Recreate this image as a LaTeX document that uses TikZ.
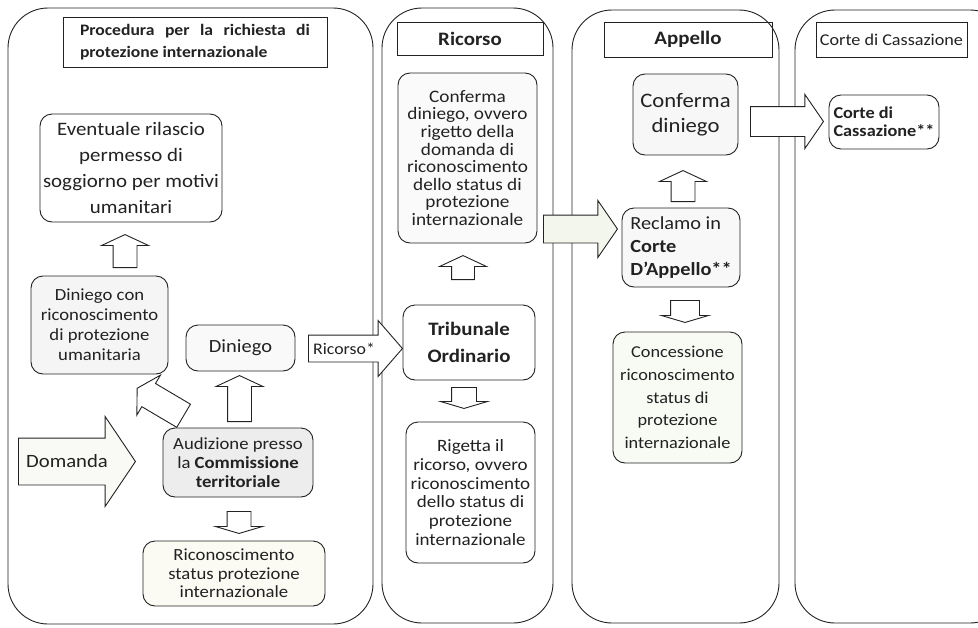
\documentclass[tikz,border=0pt]{standalone}
\usepackage{fontspec}
\setmainfont{Carlito}[FakeStretch=1.1]
\usetikzlibrary{shapes.arrows}
\definecolor{ink}{HTML}{222222}
\definecolor{greyfill}{HTML}{EDEDED}
\definecolor{softfill}{HTML}{F5F5F5}
\definecolor{creamfill}{HTML}{FBFBF3}
\definecolor{greenfill}{HTML}{F3F6EC}
\newcommand{\tightlines}{\lineskiplimit=-6pt\relax}

\begin{document}
\begin{tikzpicture}[
        x=1pt, y=-1pt,
        lane/.style={draw=ink, line width=0.9pt, rounded corners=40pt, inner sep=0pt},
        headbox/.style={draw=ink, line width=0.9pt, inner sep=0pt, text=ink},
        box/.style={draw=ink, line width=0.9pt, rounded corners=12pt, align=center, inner sep=0pt, text=ink},
        hollow/.style={single arrow, draw=ink, line width=0.9pt, fill=white, anchor=tail, inner xsep=0pt,
            inner ysep=11.5pt, single arrow head extend=11.5pt, single arrow tip angle=130},
        fat/.style={single arrow, draw=ink, line width=0.9pt, anchor=tail, inner xsep=0pt},
        label/.style={text=ink, inner sep=0pt, anchor=west}
    ]
        \useasboundingbox (0,0) rectangle (978,627);
        \clip (0,0) rectangle (978,627);

        % lanes
        \node[lane, minimum width=365, minimum height=616] (lane1) at (190.5,316) {};
        \node[lane, minimum width=171, minimum height=615] (lane2) at (467.5,315.5) {};
        \node[lane, minimum width=207, minimum height=613] (lane3) at (675.5,316.5) {};
        \node[lane, minimum width=215, minimum height=613] (lane4) at (902.5,316.5) {};

        % lane titles
        \node[headbox, minimum width=264, minimum height=50, text width=230, align=justify,
            font=\fontsize{16}{22}\selectfont\bfseries] (title1) at (195,42)
            {Procedura per la richiesta di\linebreak protezione internazionale};
        \node[headbox, minimum width=146, minimum height=33, font=\fontsize{19}{22}\selectfont\bfseries] (title2) at (470,38.5) {Ricorso};
        \node[headbox, minimum width=168, minimum height=35, font=\fontsize{19}{22}\selectfont\bfseries] (title3) at (688,39.5) {Appello};
        \node[headbox, minimum width=151, minimum height=35, font=\fontsize{16.5}{20}\selectfont] (title4) at (891.5,39.5) {Corte di Cassazione};

        % first lane
        \node[box, fill=white, minimum width=182, minimum height=108, font=\fontsize{19}{26}\selectfont] (permesso) at (131,168)
            {Eventuale rilascio\\permesso di\\soggiorno per motivi\\umanitari};
        \node[box, fill=softfill, minimum width=137, minimum height=98, font=\fontsize{17}{20}\selectfont] (umanitaria) at (99.5,325)
            {Diniego con\\riconoscimento\\di protezione\\umanitaria};
        \node[box, fill=softfill!60, minimum width=109, minimum height=46, font=\fontsize{18.6}{22}\selectfont] (diniego) at (240.5,348) {Diniego};
        \node[box, fill=greyfill, minimum width=150, minimum height=69, font=\fontsize{17}{18.7}\selectfont\tightlines] (audizione) at (238,462.5)
            {Audizione presso\\la \textbf{Commissione}\\\textbf{territoriale}};
        \node[box, fill=creamfill, minimum width=182, minimum height=65, font=\fontsize{17}{18.7}\selectfont\tightlines] (status) at (234,573.5)
            {Riconoscimento\\status protezione\\internazionale};

        \node[fat, fill=greenfill!50, minimum height=117, inner ysep=23pt, single arrow head extend=21.5pt,
            single arrow tip angle=112] (domanda) at (18,461.5) {};
        \node[label, font=\fontsize{18.8}{22}\selectfont] (domandatxt) at ([xshift=8pt]domanda.tail) {Domanda};

        \node[hollow, rotate=90, minimum height=33] (up1) at (125,268) {};
        \node[hollow, rotate=90, minimum height=46] (up2) at (239.5,422) {};
        \node[hollow, rotate=149.4, minimum height=54, inner ysep=13pt, single arrow head extend=9.75pt,
            single arrow tip angle=120] (diag) at (184,416) {};
        \node[hollow, rotate=-90, minimum height=22, single arrow tip angle=147] (down1) at (239,511) {};

        \node[fat, fill=white, minimum height=94, inner ysep=13pt, single arrow head extend=14.5pt,
            single arrow tip angle=98] (ricorso) at (308,348.5) {};
        \node[label, font=\fontsize{16.2}{20}\selectfont] (ricorsotxt) at ([xshift=5pt]ricorso.tail) {Ricorso*};

        % second lane
        \node[box, fill=softfill!50, minimum width=139, minimum height=170, font=\fontsize{17.5}{17.6}\selectfont\tightlines] (conferma) at (467.5,158)
            {Conferma\\diniego, ovvero\\rigetto della\\domanda di\\riconoscimento\\dello status di\\protezione\\internazionale};
        \node[box, fill=white, minimum width=132, minimum height=75, font=\fontsize{19}{27.7}\selectfont\bfseries] (tribunale) at (469,342.5)
            {Tribunale\\Ordinario};
        \node[box, fill=white, minimum width=129, minimum height=141, font=\fontsize{17.3}{18.7}\selectfont\tightlines] (rigetta) at (470.5,492.5)
            {Rigetta il\\ricorso, ovvero\\riconoscimento\\dello status di\\protezione\\internazionale};

        \node[hollow, rotate=90, minimum height=24, inner ysep=11pt, single arrow head extend=12pt] (up3) at (463,280) {};
        \node[hollow, rotate=-90, minimum height=21, inner ysep=12pt, single arrow head extend=11pt,
            single arrow tip angle=147] (down2) at (464,387) {};

        \node[fat, fill=greenfill, minimum height=74, inner ysep=13.5pt, single arrow head extend=14.5pt,
            single arrow tip angle=111] (appello) at (543,229) {};

        % third lane
        \node[box, fill=softfill!80, minimum width=105, minimum height=81, font=\fontsize{20.6}{25}\selectfont] (conferma2) at (685.5,114.5)
            {Conferma\\diniego};
        \node[box, fill=softfill!70, minimum width=118, minimum height=79, align=left, font=\fontsize{18.5}{23}\selectfont] (reclamo) at (681,247.5)
            {Reclamo in\\\textbf{Corte}\\\textbf{D’Appello**}};
        \node[box, fill=greenfill!60, minimum width=129, minimum height=131, font=\fontsize{16.6}{22.7}\selectfont] (concessione) at (677.5,397.5)
            {Concessione\\riconoscimento\\status di\\protezione\\internazionale};

        \node[hollow, rotate=90, minimum height=31] (up4) at (683,202) {};
        \node[hollow, rotate=-90, minimum height=22, inner ysep=14pt, single arrow head extend=9pt,
            single arrow tip angle=147] (down3) at (685,300) {};

        \node[fat, fill=white, minimum height=73, inner ysep=14.5pt, single arrow head extend=12pt,
            single arrow tip angle=111] (cassazione) at (750,121.5) {};

        % fourth lane
        \node[box, fill=white, minimum width=110, minimum height=54, align=left, font=\fontsize{16.6}{18}\selectfont\bfseries\tightlines] (corte) at (884,122)
            {Corte di\\Cassazione**};
    \end{tikzpicture}
\end{document}
